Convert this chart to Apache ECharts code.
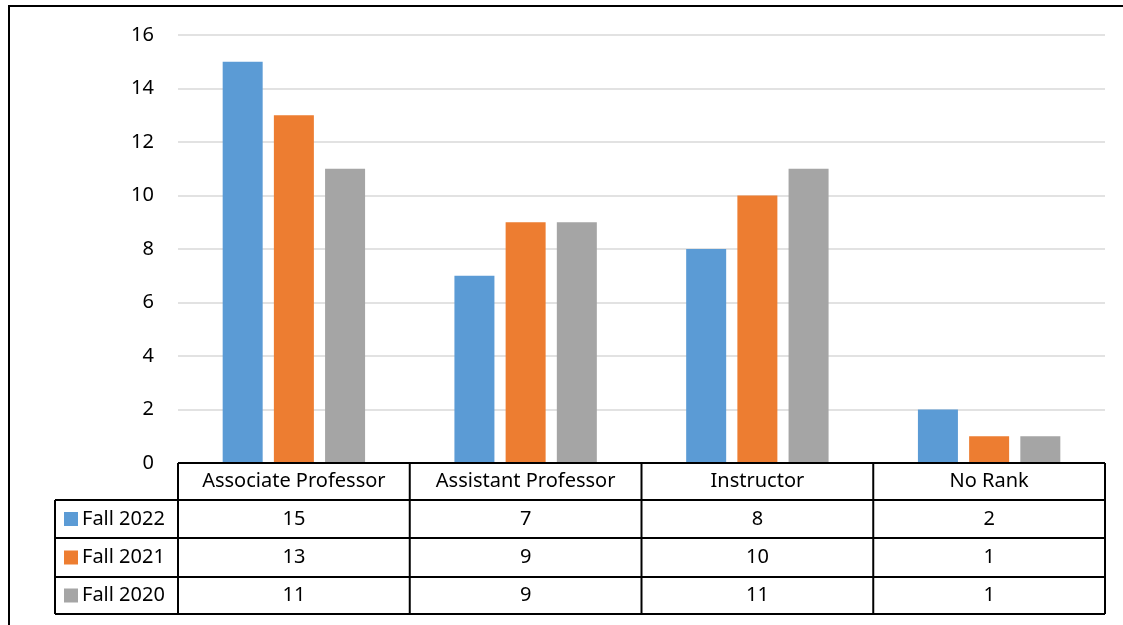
<!DOCTYPE html>
<html><head><meta charset="utf-8">
<script src="https://cdn.jsdelivr.net/npm/echarts@6/dist/echarts.min.js"></script>
<style>html,body{margin:0;padding:0;background:#fff}#c{width:1123px;height:625px}</style>
</head><body><div id="c"></div>
<script>
const categories = ['Associate Professor', 'Assistant Professor', 'Instructor', 'No Rank'];
const seriesNames = ['Fall 2022', 'Fall 2021', 'Fall 2020'];
const fall2022 = [15, 7, 8, 2];
const fall2021 = [13, 9, 10, 1];
const fall2020 = [11, 9, 11, 1];
const colors = ['#5b9bd5', '#ed7d31', '#a5a5a5'];
const yTicks = [0, 2, 4, 6, 8, 10, 12, 14, 16];
const seriesData = [fall2022, fall2021, fall2020];

const FONT = '"Noto Sans"';
const FS = 20;
const W = 1123, H = 625;
const gridL = 178, gridR = 1105, gridT = 35, gridB = 463;
const rowEdges = [463, 500, 538, 577, 614];
const legendL = 55;

const chart = echarts.init(document.getElementById('c'), null, {renderer: 'canvas'});
const option = {
  animation: false,
  backgroundColor: '#fff',
  grid: {left: gridL, right: W - gridR, top: gridT, bottom: H - gridB, containLabel: false},
  xAxis: {
    type: 'category', data: categories,
    axisLine: {show: false}, axisTick: {show: false}, axisLabel: {show: false}
  },
  yAxis: {
    type: 'value', min: yTicks[0], max: yTicks[yTicks.length - 1], interval: 2,
    axisLine: {show: false}, axisTick: {show: false},
    axisLabel: {fontFamily: 'Noto Sans', fontSize: FS, color: '#000', margin: 24},
    splitLine: {lineStyle: {color: '#d9d9d9', width: 1.5}}
  },
  series: seriesNames.map((n, i) => ({
    name: n, type: 'bar', data: seriesData[i], barWidth: 40, barGap: '28%',
    itemStyle: {color: colors[i]}
  }))
};
chart.setOption(option);

function buildTable() {
  const g = [];
  const line = (x1, y1, x2, y2) => g.push({type: 'line', shape: {x1, y1, x2, y2}, style: {stroke: '#000', lineWidth: 2}, z: 100});
  g.push({type: 'rect', shape: {x: 9, y: 6, width: W + 20, height: H + 20}, style: {fill: null, stroke: '#000', lineWidth: 2}, z: 100});
  const catW = (gridR - gridL) / categories.length;
  line(gridL, rowEdges[0], gridR, rowEdges[0]);
  for (let r = 1; r < rowEdges.length; r++) line(legendL, rowEdges[r], gridR, rowEdges[r]);
  line(legendL, rowEdges[1], legendL, rowEdges[rowEdges.length - 1]);
  for (let c = 0; c <= categories.length; c++) {
    const x = gridL + c * catW;
    line(x, rowEdges[0], x, rowEdges[rowEdges.length - 1]);
  }
  const font = FS + 'px ' + FONT;
  categories.forEach((cat) => {
    const cx = chart.convertToPixel({xAxisIndex: 0}, cat);
    g.push({type: 'text', x: cx, y: (rowEdges[0] + rowEdges[1]) / 2, style: {text: cat, font, fill: '#000', align: 'center', verticalAlign: 'middle'}, z: 101});
  });
  seriesNames.forEach((n, i) => {
    const cy = (rowEdges[i + 1] + rowEdges[i + 2]) / 2;
    g.push({type: 'rect', shape: {x: 64, y: cy - 7, width: 14, height: 14}, style: {fill: colors[i]}, z: 101});
    g.push({type: 'text', x: 82, y: cy, style: {text: n, font, fill: '#000', align: 'left', verticalAlign: 'middle'}, z: 101});
    seriesData[i].forEach((v, c) => {
      const cx = chart.convertToPixel({xAxisIndex: 0}, categories[c]);
      g.push({type: 'text', x: cx, y: cy, style: {text: String(v), font, fill: '#000', align: 'center', verticalAlign: 'middle'}, z: 101});
    });
  });
  chart.setOption({graphic: {elements: g}});
}
buildTable();
</script></body></html>
